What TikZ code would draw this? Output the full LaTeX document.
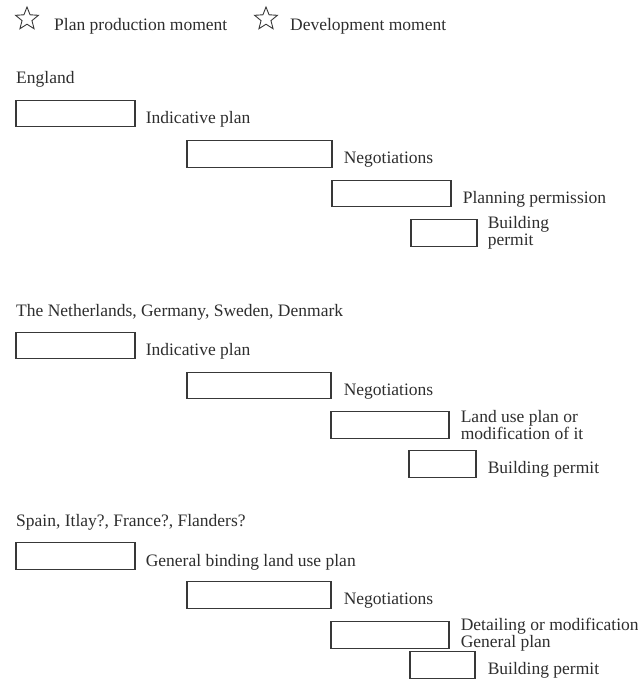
\documentclass[tikz,border=0pt]{standalone}
\usepackage{fontspec}
\setmainfont{Liberation Serif}
\usetikzlibrary{shapes.geometric}
\usetikzlibrary{positioning}
\usetikzlibrary{calc}

\begin{document}
\begin{tikzpicture}[x=1pt, y=-1pt,
        font=\fontsize{17.5}{17}\selectfont, text=black!82,
        stagebox/.style={draw=black!78, line width=1.2pt, rectangle, inner sep=0pt, minimum height=26.5pt},
        lbl/.style={inner sep=0pt, anchor=base west},
        mlbl/.style={inner sep=0pt, align=left},
        legstar/.style={draw=black!78, line width=0.9pt, star, star points=5, star point ratio=2.3, minimum size=24pt, inner sep=0pt}]
    \useasboundingbox (0,0) rectangle (638,689);

    % legend
    \node[legstar] (st1) at (27,19) {};
    \node[lbl] (lg1) at (54,30) {Plan production moment};
    \node[legstar] (st2) at (266,19) {};
    \node[lbl] (lg2) at (290,30) {Development moment};

    % England
    \node[lbl] (eng) at (16,83) {England};
    \node[stagebox, minimum width=119pt] (e1) at (75.5,113.5) {};
    \node[stagebox, minimum width=145pt] (e2) at (259.5,154) {};
    \node[stagebox, minimum width=119pt] (e3) at (391.5,193.5) {};
    \node[stagebox, minimum width=66pt] (e4) at (444,233) {};
    \node[lbl] (e1t) at ($(e1.south east)+(10,-4)$) {Indicative plan};
    \node[lbl] (e2t) at ($(e2.south east)+(11,-4)$) {Negotiations};
    \node[lbl] (e3t) at ($(e3.south east)+(11,-4)$) {Planning permission};
    \node[mlbl, right=10pt of e4] (e4t) {Building\\permit};

    % The Netherlands etc.
    \node[lbl] (nl) at (16,316) {The Netherlands, Germany, Sweden, Denmark};
    \node[stagebox, minimum width=119pt] (n1) at (75.5,345.5) {};
    \node[stagebox, minimum width=144pt] (n2) at (259,385.5) {};
    \node[stagebox, minimum width=118pt] (n3) at (390,425) {};
    \node[stagebox, minimum width=67pt] (n4) at (442.5,464) {};
    \node[lbl] (n1t) at ($(n1.south east)+(10,-4)$) {Indicative plan};
    \node[lbl] (n2t) at ($(n2.south east)+(12,-4)$) {Negotiations};
    \node[mlbl, right=11pt of n3] (n3t) {Land use plan or\\modification of it};
    \node[lbl] (n4t) at ($(n4.south east)+(11,-4)$) {Building permit};

    % Spain etc.
    \node[lbl] (sp) at (16,526) {Spain, Itlay?, France?, Flanders?};
    \node[stagebox, minimum width=119pt] (s1) at (75.5,556) {};
    \node[stagebox, minimum width=144pt] (s2) at (259,595) {};
    \node[stagebox, minimum width=118pt] (s3) at (390,635) {};
    \node[stagebox, minimum width=65pt] (s4) at (442.5,665) {};
    \node[lbl] (s1t) at ($(s1.south east)+(10,-3)$) {General binding land use plan};
    \node[lbl] (s2t) at ($(s2.south east)+(12,-4)$) {Negotiations};
    \node[mlbl, right=11pt of s3] (s3t) {Detailing or modification\\General plan};
    \node[lbl] (s4t) at ($(s4.south east)+(12,-4)$) {Building permit};
\end{tikzpicture}
\end{document}
